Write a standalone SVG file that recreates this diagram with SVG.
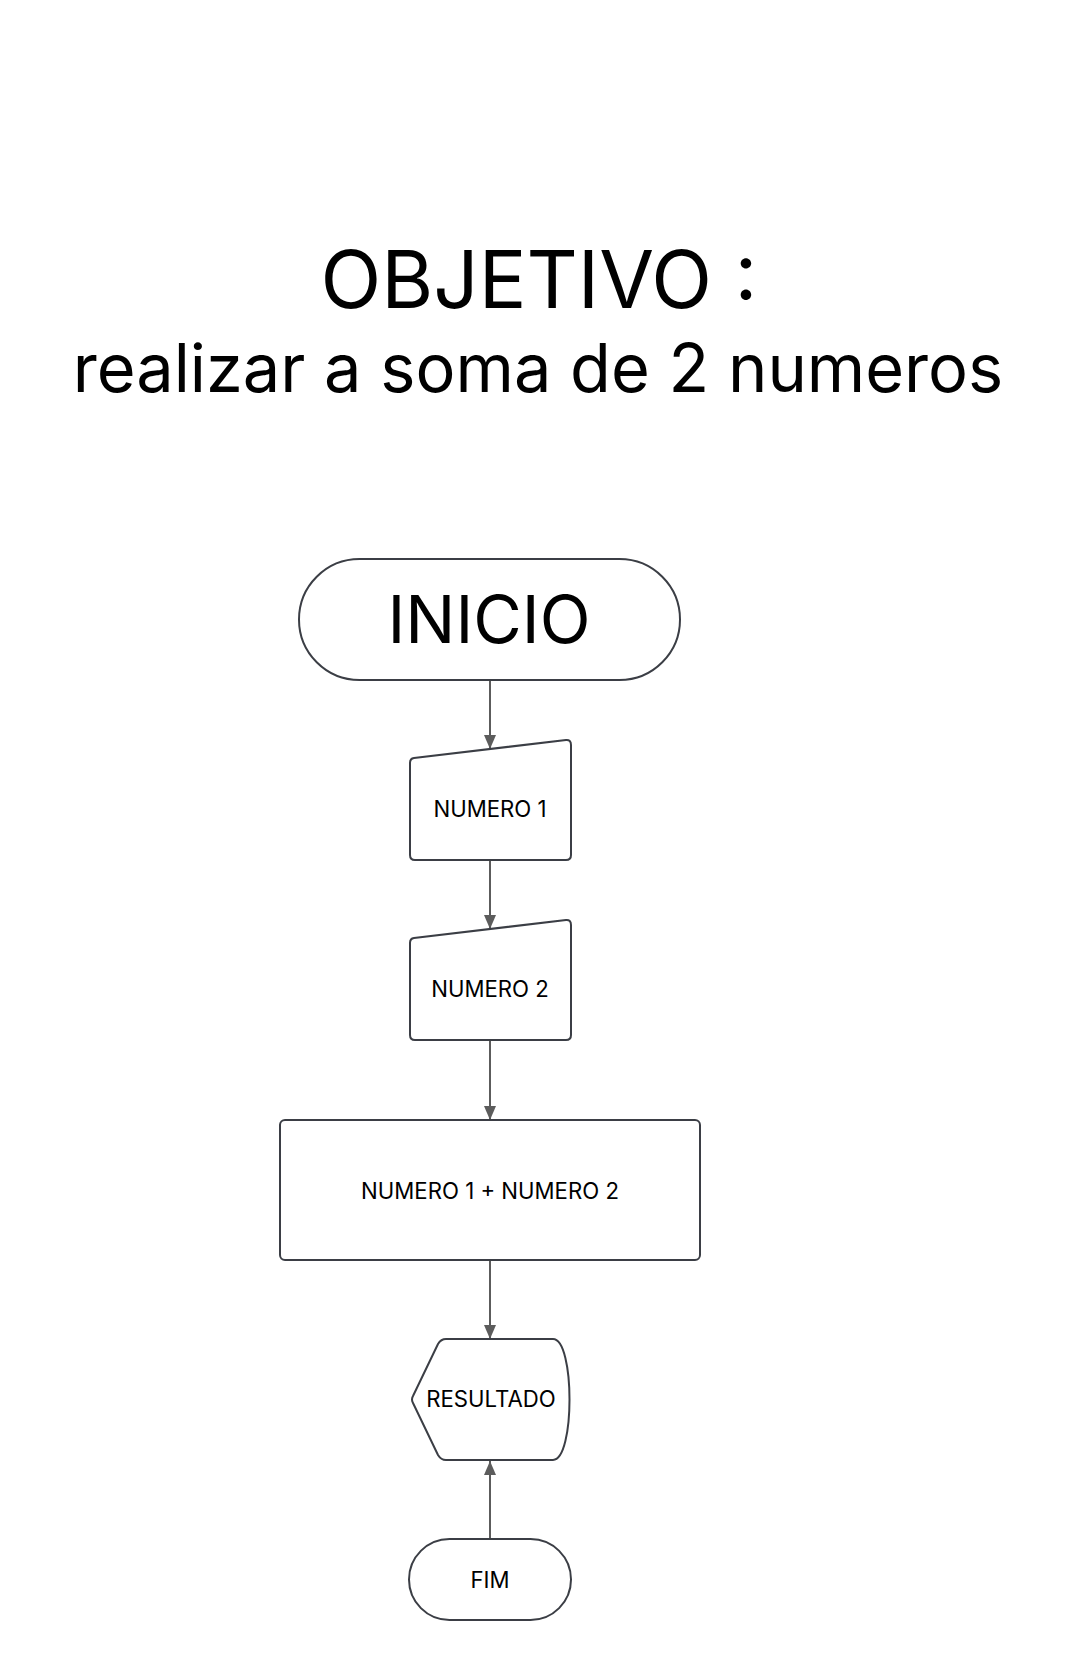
<svg xmlns="http://www.w3.org/2000/svg" width="1080" height="1660" viewBox="0 0 1080 1660">
<style>
.shape{fill:#ffffff;stroke:#3b3e45;stroke-width:2;stroke-linejoin:round}
.lbl{font-family:Inter,"Liberation Sans",sans-serif;font-size:22.2px;fill:#000000;text-anchor:middle}
.title{font-family:Inter,"Liberation Sans",sans-serif;fill:#000000;text-anchor:middle}
.conn{stroke:#5c5c5c;stroke-width:2;fill:none}
</style>
<defs>
<marker id="arr" viewBox="0 0 14 12" refX="14" refY="6" markerWidth="14" markerHeight="12" markerUnits="userSpaceOnUse" orient="auto">
<path d="M0,0 L14,6 L0,12 Z" fill="#5c5c5c"/>
</marker>
</defs>
<rect width="1080" height="1660" fill="#ffffff"/>
<g id="title">
<text class="title" x="539" y="308" font-size="79.5">OBJETIVO :</text>
<text class="title" x="538" y="392" font-size="66.7">realizar a soma de 2 numeros</text>
</g>
<g id="connectors">
<line class="conn" x1="490" y1="680" x2="490" y2="749" marker-end="url(#arr)"/>
<line class="conn" x1="490" y1="860" x2="490" y2="929" marker-end="url(#arr)"/>
<line class="conn" x1="490" y1="1040" x2="490" y2="1120" marker-end="url(#arr)"/>
<line class="conn" x1="490" y1="1260" x2="490" y2="1339" marker-end="url(#arr)"/>
<line class="conn" x1="490" y1="1539" x2="490" y2="1461" marker-end="url(#arr)"/>
</g>
<g id="inicio">
<rect class="shape" x="299" y="559" width="381" height="121" rx="60.5"/>
<text class="title" x="489" y="643" font-size="66.5">INICIO</text>
</g>
<g id="numero1">
<path class="shape" d="M414,758 L566,740 Q571,739.5 571,745 L571,855 Q571,860 566,860 L415,860 Q410,860 410,855 L410,763 Q410,758.5 414,758 Z"/>
<text class="lbl" x="490" y="817">NUMERO 1</text>
</g>
<g id="numero2">
<path class="shape" d="M414,938 L566,920 Q571,919.5 571,925 L571,1035 Q571,1040 566,1040 L415,1040 Q410,1040 410,1035 L410,943 Q410,938.5 414,938 Z"/>
<text class="lbl" x="490" y="997">NUMERO 2</text>
</g>
<g id="soma">
<rect class="shape" x="280" y="1120" width="420" height="140" rx="5"/>
<text class="lbl" x="490" y="1199">NUMERO 1 + NUMERO 2</text>
</g>
<g id="resultado">
<path class="shape" d="M446,1339 L553,1339 C575,1339 575,1460 553,1460 L446,1460 Q441,1460 438,1455 L413,1403 Q411,1399.5 413,1396 L438,1344 Q441,1339 446,1339 Z"/>
<text class="lbl" x="491" y="1407">RESULTADO</text>
</g>
<g id="fim">
<rect class="shape" x="409" y="1539" width="162" height="81" rx="40.5"/>
<text class="lbl" x="490" y="1588">FIM</text>
</g>
</svg>
